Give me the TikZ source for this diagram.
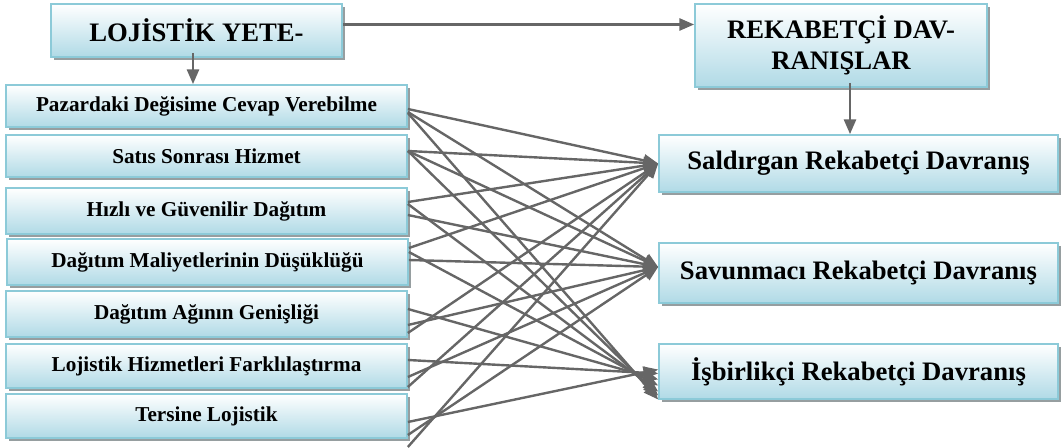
\documentclass[tikz,border=0pt]{standalone}
\usepackage{fontspec}
\setmainfont{Liberation Serif}
\usetikzlibrary{calc,shadows,arrows.meta}
\definecolor{boxedge}{RGB}{140,202,216}
\definecolor{boxlow}{RGB}{176,218,230}
\definecolor{linkgray}{RGB}{102,102,102}
\definecolor{shadowgray}{RGB}{150,158,160}
\tikzset{
  panel/.style={draw=boxedge, line width=1.3pt, top color=white, bottom color=boxlow,
    drop shadow={shadow xshift=2.4pt, shadow yshift=-2.4pt, fill=shadowgray, opacity=1},
    inner sep=0pt, align=center, font=\bfseries},
  leftpanel/.style={panel, minimum width=300.75pt, font=\fontsize{15.9}{18}\selectfont\bfseries},
  rightpanel/.style={panel, minimum width=299.25pt, font=\fontsize{20}{24}\selectfont\bfseries},
  headpanel/.style={panel, font=\fontsize{20}{23}\selectfont\bfseries},
  link/.style={draw=linkgray, line width=1.8pt, -{Triangle[length=11pt,width=9pt]}},
}
\begin{document}
\begin{tikzpicture}[x=0.75pt,y=-0.75pt]
\useasboundingbox (0,0) rectangle (1063,448);

% headings
\node[headpanel, minimum width=218.25pt, minimum height=39.75pt] (T) at (196.5,30.5) {LOJİSTİK YETE-};
\node[headpanel, minimum width=219pt, minimum height=62.25pt] (R) at (841,45.5) {REKABETÇİ DAV-\\RANIŞLAR};

% capability boxes
\node[leftpanel, minimum height=31.5pt] (L1) at (206.5,106) {Pazardaki Değisime Cevap Verebilme};
\node[leftpanel, minimum height=31.5pt] (L2) at (206.5,156) {Satıs Sonrası Hizmet};
\node[leftpanel, minimum height=34.5pt] (L3) at (206.5,211) {Hızlı ve Güvenilir Dağıtım};
\node[leftpanel, minimum height=34.5pt] (L4) at (207.5,262) {Dağıtım Maliyetlerinin Düşüklüğü};
\node[leftpanel, minimum height=34.5pt] (L5) at (206.5,314) {Dağıtım Ağının Genişliği};
\node[leftpanel, minimum height=33pt] (L6) at (206.5,366) {Lojistik Hizmetleri Farklılaştırma};
\node[leftpanel, minimum height=33pt] (L7) at (206.5,416) {Tersine Lojistik};

% behaviour boxes
\node[rightpanel, minimum height=42.75pt] (S1) at (858.5,163.5) {Saldırgan Rekabetçi Davranış};
\node[rightpanel, minimum height=45pt] (S2) at (858.5,273) {Savunmacı Rekabetçi Davranış};
\node[rightpanel, minimum height=41.25pt] (S3) at (858.5,371.5) {İşbirlikçi Rekabetçi Davranış};

% heading connectors
\draw[link] ($(T.south)+(-3.5,-5)$) coordinate (d1) -- (d1 |- L1.north);
\draw[link] ($(T.east)+(0,-6)$) coordinate (h1) -- (h1 -| R.west);
\draw[link] ($(R.south)+(9,-5)$) coordinate (v1) -- (v1 |- S1.north);

% every capability to every behaviour
\foreach \src/\a/\b/\c/\e in {
  L1/3/6/7/28, L2/-5/-5/-5/24, L3/-9/4/-7/20, L4/-14/-2/-10/14,
  L5/19/11/-5/8, L6/21/11/-6/2, L7/31/19/6/-2}{
  \draw[link] ($(\src.east)+(0,\a)$) -- (S1.west);
  \draw[link] ($(\src.east)+(0,\b)$) -- ($(S2.west)+(0,-6)$);
  \draw[link] ($(\src.east)+(0,\c)$) -- ($(S3.west)+(0,\e)$);
}
\end{tikzpicture}
\end{document}
